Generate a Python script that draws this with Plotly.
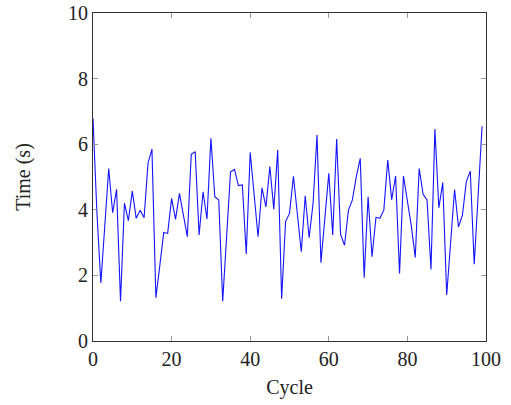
import plotly.graph_objects as go

cycles = list(range(100))
times = [6.79, 3.9, 1.77, 3.5, 5.26, 3.91, 4.62, 1.21, 4.20, 3.67,
         4.57, 3.74, 3.99, 3.76, 5.42, 5.85, 1.32, 2.3, 3.31, 3.28,
         4.35, 3.71, 4.50, 3.84, 3.18, 5.69, 5.77, 3.23, 4.55, 3.72,
         6.18, 4.40, 4.30, 1.21, 3.28, 5.16, 5.23, 4.74, 4.76, 2.65,
         5.75, 4.45, 3.18, 4.67, 4.09, 5.32, 4.02, 5.82, 1.29, 3.64,
         3.89, 5.02, 3.89, 2.72, 4.43, 3.15, 4.2, 6.28, 2.39, 3.79,
         5.11, 3.23, 6.16, 3.25, 2.92, 3.99, 4.30, 5.01, 5.57, 1.93,
         4.40, 2.57, 3.77, 3.74, 3.99, 5.52, 4.31, 5.03, 2.06, 5.03,
         4.3, 3.5, 2.55, 5.26, 4.47, 4.30, 2.18, 6.46, 4.06, 4.83,
         1.40, 3.0, 4.62, 3.48, 3.84, 4.86, 5.18, 2.34, 4.6, 6.55]

x_ticks = [0, 20, 40, 60, 80, 100]
y_ticks = [0, 2, 4, 6, 8, 10]

font = "Liberation Serif, DejaVu Serif, serif"
fs = 20

fig = go.Figure(go.Scatter(x=cycles, y=times, mode="lines",
                           line=dict(color="rgb(20,20,255)", width=1.1)))

fig.update_layout(
    width=511, height=405,
    margin=dict(l=93, r=25, t=13, b=64),
    paper_bgcolor="white", plot_bgcolor="white",
    showlegend=False,
    font=dict(family=font, size=fs, color="#222"),
)
axis_common = dict(
    showgrid=False, zeroline=False, showline=True, linecolor="#333", linewidth=1,
    mirror="allticks", ticks="inside", ticklen=5, tickcolor="#999", tickwidth=1,
    tickfont=dict(family=font, size=fs, color="#222"),
    automargin=False,
)
fig.update_xaxes(range=[0, 100], tickvals=x_ticks,
                 title=dict(text="Cycle", standoff=10, font=dict(family=font, size=fs)),
                 **axis_common)
fig.update_yaxes(range=[0, 10], tickvals=y_ticks,
                 title=dict(text="Time (s)", standoff=32, font=dict(family=font, size=fs)),
                 **axis_common)

fig.write_html("out.html")
